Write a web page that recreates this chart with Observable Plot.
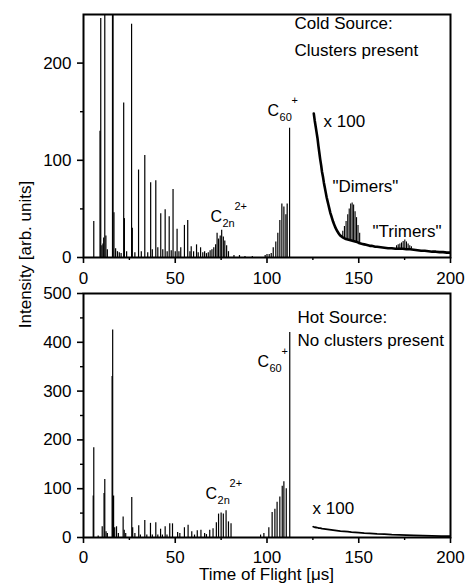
<!DOCTYPE html>
<html>
<head>
<meta charset="utf-8">
<script src="https://cdn.jsdelivr.net/npm/d3@7"></script>
<script src="https://cdn.jsdelivr.net/npm/@observablehq/plot@0.6"></script>
<style>
  html, body { margin: 0; padding: 0; background: #fff; }
  #chart { position: relative; width: 466px; height: 586px; background: #fff; overflow: hidden;
           font-family: "Liberation Sans", Arial, Helvetica, sans-serif; color: #000; }
  #chart .panel { position: absolute; left: 0; }
  .title { position: absolute; font-size: 17px; line-height: 17px; white-space: nowrap; text-align: center; color: #000; }
</style>
</head>
<body>
<div id="chart"></div>
<script>
// ---------- data ----------
const xTicks = [0, 50, 100, 150, 200];
const xMinorTicks = [25, 75, 125, 175];
const coldYTicks = [0, 100, 200];
const coldYMinorTicks = [50, 150];
const hotYTicks = [0, 100, 200, 300, 400, 500];
const hotYMinorTicks = [50, 150, 250, 350, 450];

// Cold source spectrum: peak times [µs] and heights
const coldPeakTime = [5.6, 9.0, 9.4, 10.0, 10.6, 11.0, 11.6, 12.2, 13.0, 15.8, 16.1, 16.6, 17.5, 18.5, 19.5, 20.5,
  21.9, 22.3, 23.5, 26.2, 26.6, 28.0, 30.0, 31.5, 33.4, 35.0, 36.6, 37.5, 39.4, 40.5, 42.1, 43.2, 44.5, 45.6,
  46.7, 47.8, 48.8, 50.0, 51.0, 52.0, 53.0, 55.0, 56.8, 58.0, 58.7, 60.0, 61.6, 62.5, 63.8, 65.0, 66.0, 67.0,
  68.0, 69.0, 70.0, 71.0, 72.0, 72.8, 73.6, 74.5, 75.3, 76.2, 77.0, 78.0, 79.0, 82.0, 85.0, 88.0, 92.0,
  99.0, 100.0, 101.2, 102.3, 103.4, 104.8, 105.9, 107.0, 108.1, 109.2, 110.3, 111.0, 112.3];
const coldPeakHeight = [37, 130, 246, 12, 14, 20, 260, 22, 8, 260, 260, 46, 9, 6, 5, 4,
  159, 40, 6, 240, 30, 5, 90, 6, 105, 5, 77, 8, 79, 10, 45, 8, 49, 6,
  42, 7, 70, 6, 29, 6, 10, 33, 38, 6, 11, 6, 13, 5, 10, 5, 6, 4,
  5, 7, 8, 10, 13, 25, 19, 22, 28, 21, 17, 12, 6, 2, 2, 1, 1,
  2, 3, 3, 4, 10, 16, 25, 38, 55, 52, 44, 55, 133];

// Cold source, x100 magnified tail: smooth background
const coldX100Time = [125.5, 126, 126.5, 127, 127.5, 128, 128.5, 129, 129.5, 130, 130.5, 131, 131.5, 132, 132.5,
  133, 133.5, 134, 134.5, 135, 135.5, 136, 136.5, 137, 137.5, 138, 138.5, 139, 139.5, 140, 141, 142, 143,
  144, 145, 146, 147, 148, 149, 150, 151, 152, 153, 154, 155, 156, 157, 158, 159, 160, 162, 164, 166, 168, 170,
  172, 174, 176, 178, 180, 182, 184, 186, 188, 190, 192, 194, 196, 198, 200];
const coldX100Value = [148, 141, 135, 129, 123, 115, 108, 101, 95, 88, 83, 77, 72, 67, 62,
  58, 54, 50, 46, 43, 40, 37, 34.5, 32, 30, 28, 26.5, 25, 23.5, 22.5, 21, 20, 19,
  18.5, 18, 17.5, 17, 16.5, 16, 15, 14.5, 14, 13.5, 13, 12.5, 12, 12, 11.5, 11, 11, 10.5, 10, 9.5, 9.5, 9,
  9, 9, 8.5, 8.5, 8, 7.5, 7, 7, 6.5, 6, 6, 5.5, 5.5, 5, 5];

// Cluster peaks sitting on the x100 background: time, foot, top
const coldClusterTime = [141.3, 142.2, 143.1, 144.0, 144.8, 145.6, 146.4, 147.2, 148.0, 148.8, 149.6, 150.5,
  170.6, 171.5, 172.4, 173.3, 174.2, 175.1, 176.0, 176.9, 177.8, 178.7];
const coldClusterFoot = [20.5, 20, 19, 18.5, 18, 17.5, 17, 17, 16.5, 16, 15.5, 15,
  9, 9, 9, 9, 9, 9, 8.5, 8.5, 8.5, 8.5];
const coldClusterTop = [27, 32, 37, 44, 50, 55, 56, 54, 47, 41, 33, 25,
  12, 13, 14, 15, 16.5, 18, 16, 14, 12, 11];

// Hot source spectrum: peak times [µs] and heights
const hotPeakTime = [5.3, 5.6, 8.0, 10.2, 11.2, 11.6, 12.3, 13.0, 15.6, 15.9, 16.4, 17.0, 18.0, 19.0,
  21.6, 22.2, 23.0, 26.3, 26.8, 28.0, 30.1, 31.0, 33.4, 34.5, 36.5, 37.5, 39.4, 40.5, 42.0, 43.0, 44.5, 45.5,
  47.0, 48.5, 51.3, 52.5, 55.0, 57.0, 59.0, 60.5, 62.0, 64.0, 66.0, 67.0, 68.8, 70.6, 72.4, 73.6, 75.0, 76.2,
  77.7, 79.0, 80.4, 96.5, 98.3, 101.0, 102.8, 104.3, 105.5, 107.0, 108.3, 109.2, 110.5, 112.4];
const hotPeakHeight = [85, 184, 3, 22, 90, 119, 12, 8, 330, 425, 85, 20, 22, 8,
  42, 15, 8, 82, 20, 8, 24, 5, 35, 5, 29, 5, 30, 5, 17, 5, 22, 5,
  28, 28, 10, 8, 20, 25, 12, 5, 14, 15, 8, 6, 15, 18, 30, 48, 50, 48,
  55, 32, 28, 5, 8, 20, 51, 58, 72, 83, 105, 114, 100, 420];

// Hot source, x100 magnified tail
const hotX100Time = [125.2, 126, 127, 128, 129, 130, 132, 134, 136, 138, 140, 142, 144, 146, 148, 150,
  153, 156, 160, 164, 168, 172, 176, 180, 185, 190, 195, 200];
const hotX100Value = [22, 21, 20.5, 19.5, 19, 18, 17, 16, 15, 14, 13, 12.5, 12, 11, 10.5, 10,
  9, 8.5, 7.5, 7, 6, 5.5, 5, 4.5, 4, 3.5, 3, 3];

// Annotations (text and data-space anchor)
const coldNotes = [
  {text: "Cold Source:", t: 115, v: 235},
  {text: "Clusters present", t: 115, v: 207},
  {text: "x 100", t: 130.8, v: 134},
  {text: "\"Dimers\"", t: 135.7, v: 67},
  {text: "\"Trimers\"", t: 157.5, v: 20.6}
];
const coldSpecies = [
  {main: "C", sub: "60", sup: "+", t: 100.3, v: 146},
  {main: "C", sub: "2n", sup: "2+", t: 69.2, v: 37}
];
const hotNotes = [
  {text: "Hot Source:", t: 116.6, v: 440},
  {text: "No clusters present", t: 116.6, v: 393},
  {text: "x 100", t: 124.8, v: 49}
];
const hotSpecies = [
  {main: "C", sub: "60", sup: "+", t: 94.8, v: 350},
  {main: "C", sub: "2n", sup: "2+", t: 66.5, v: 78}
];

const xTitle = "Time of Flight [μs]";
const yTitle = "Intensity [arb. units]";

// ---------- build tables ----------
const coldPeaks = coldPeakTime.map((t, i) => ({t, v: coldPeakHeight[i]}));
const coldX100 = coldX100Time.map((t, i) => ({t, v: coldX100Value[i]}));
const coldClusters = coldClusterTime.map((t, i) => ({t, v1: coldClusterFoot[i], v2: coldClusterTop[i]}));
const hotPeaks = hotPeakTime.map((t, i) => ({t, v: hotPeakHeight[i]}));
const hotX100 = hotX100Time.map((t, i) => ({t, v: hotX100Value[i]}));

const FONT = "'Liberation Sans', Arial, Helvetica, sans-serif";

function speciesMarks(species) {
  return [
    Plot.text(species, {x: "t", y: "v", text: "main", textAnchor: "start", lineAnchor: "bottom", fontSize: 16, fill: "black"}),
    Plot.text(species, {x: "t", y: "v", text: "sub", textAnchor: "start", lineAnchor: "bottom", fontSize: 11, dx: 12, dy: 5, fill: "black"}),
    Plot.text(species, {x: "t", y: "v", text: "sup", textAnchor: "start", lineAnchor: "bottom", fontSize: 11, dx: 24, dy: -12, fill: "black"})
  ];
}

function panel({peaks, x100, x100Width, clusters, yDomain, yTicks, yMinor, notes, species, height, marginTop, marginBottom, xPad}) {
  return Plot.plot({
    width: 466,
    height,
    marginLeft: 83,
    marginRight: 16,
    marginTop,
    marginBottom,
    x: {domain: [0, 200], label: null},
    y: {domain: yDomain, label: null},
    style: {fontFamily: FONT, fontSize: "17px", color: "black", background: "transparent", overflow: "visible"},
    marks: [
      Plot.ruleX(peaks, {x: "t", y1: 0, y2: "v", stroke: "black", strokeWidth: 1.2, clip: true}),
      Plot.line(x100, {x: "t", y: "v", stroke: "black", strokeWidth: x100Width, clip: true}),
      Plot.ruleX(clusters, {x: "t", y1: "v1", y2: "v2", stroke: "black", strokeWidth: 1.1, clip: true}),
      Plot.frame({stroke: "black", strokeWidth: 2}),
      Plot.axisX(xTicks, {tickSize: 6, tickPadding: xPad, strokeWidth: 1.6, fontSize: 17, fill: "black", label: null}),
      Plot.axisX(xMinorTicks, {tickSize: 3, strokeWidth: 1.4, tickFormat: () => "", label: null}),
      Plot.axisY(yTicks, {tickSize: 6, tickPadding: 6, strokeWidth: 1.6, fontSize: 17, fill: "black", label: null}),
      Plot.axisY(yMinor, {tickSize: 3, strokeWidth: 1.4, tickFormat: () => "", label: null}),
      Plot.text(notes, {x: "t", y: "v", text: "text", textAnchor: "start", lineAnchor: "bottom", fontSize: 17, fill: "black"}),
      ...speciesMarks(species)
    ]
  });
}

const chart = document.getElementById("chart");

const topPanel = panel({peaks: coldPeaks, x100: coldX100, x100Width: 2.6, clusters: coldClusters,
  yDomain: [0, 250], yTicks: coldYTicks, yMinor: coldYMinorTicks,
  notes: coldNotes, species: coldSpecies, height: 290, marginTop: 14, marginBottom: 33, xPad: 8});
topPanel.classList.add("panel");
topPanel.style.top = "0px";
chart.appendChild(topPanel);

const bottomPanel = panel({peaks: hotPeaks, x100: hotX100, x100Width: 1.8, clusters: [],
  yDomain: [0, 500], yTicks: hotYTicks, yMinor: hotYMinorTicks,
  notes: hotNotes, species: hotSpecies, height: 307, marginTop: 14, marginBottom: 49, xPad: 7});
bottomPanel.classList.add("panel");
bottomPanel.style.top = "279px";
chart.appendChild(bottomPanel);

const xt = document.createElement("div");
xt.className = "title";
xt.textContent = xTitle;
xt.style.left = "83px";
xt.style.width = "367px";
xt.style.top = "566px";
chart.appendChild(xt);

const yt = document.createElement("div");
yt.className = "title";
yt.textContent = yTitle;
yt.style.width = "300px";
yt.style.height = "17px";
yt.style.left = (25 - 150) + "px";
yt.style.top = (254 - 8.5) + "px";
yt.style.transform = "rotate(-90deg)";
chart.appendChild(yt);
</script>
</body>
</html>
